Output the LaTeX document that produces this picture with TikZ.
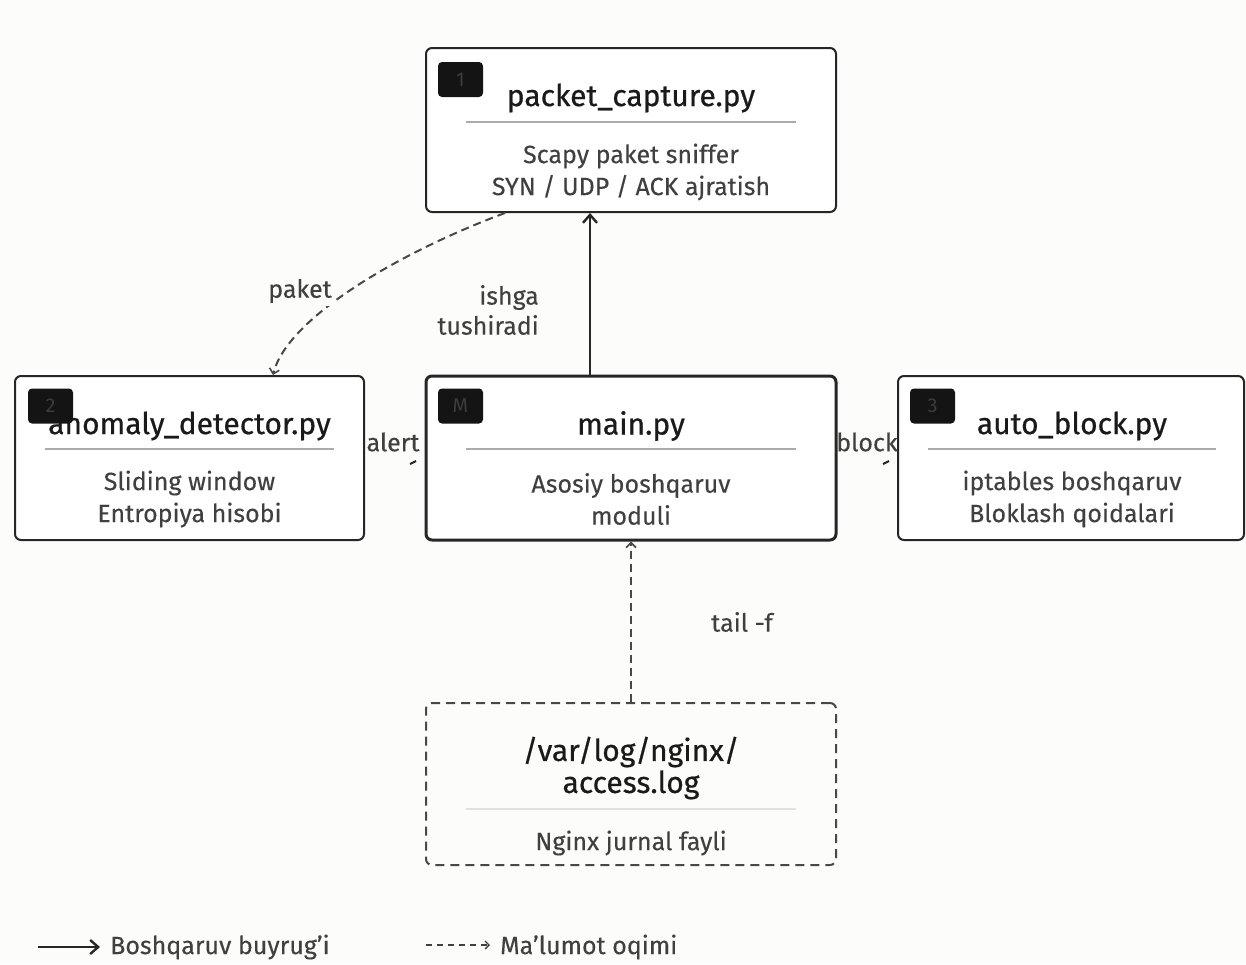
\documentclass[tikz,border=0pt]{standalone}
\usepackage{fontspec}
\setmainfont{Fira Sans}
\newfontface\ttlface{Fira Sans}[FakeBold=0.6]
\newfontface\bdyface{Fira Sans}[FakeBold=0.25]
\usetikzlibrary{arrows.meta,calc}
\definecolor{bgc}{HTML}{FCFCFB}
\definecolor{edge}{HTML}{262626}
\definecolor{titlec}{HTML}{1A1A1A}
\definecolor{bodyc}{HTML}{404040}
\definecolor{sepc}{HTML}{ABABAB}
\definecolor{sepl}{HTML}{E0E0E0}
\definecolor{badgec}{HTML}{141414}
\definecolor{badget}{HTML}{3C3C3C}
\definecolor{dashc}{HTML}{484848}
\tikzset{
  modbox/.style={draw=edge, line width=2pt, rounded corners=6pt, fill=white, minimum width=#1, minimum height=164pt, inner sep=0pt},
  modbox/.default=410pt,
  mainbox/.style={modbox, line width=3pt},
  logbox/.style={draw=dashc, line width=2pt, dash pattern=on 9pt off 6pt, rounded corners=6pt, minimum width=410pt, minimum height=162pt, inner sep=0pt},
  badge/.style={fill=badgec, rounded corners=4pt, minimum width=45pt, minimum height=35pt, inner sep=0pt, text=badget, font=\fontsize{20}{20}\selectfont},
  ttl/.style={text=titlec, font=\ttlface\fontsize{30}{32}\selectfont, inner sep=0pt, align=center},
  bdy/.style={text=bodyc, font=\bdyface\fontsize{25}{32}\selectfont, inner sep=0pt, align=center},
  lbl/.style={text=bodyc, font=\bdyface\fontsize{25}{30}\selectfont, inner sep=0pt, align=center},
  sep/.style={draw=sepc, line width=2pt},
  ctrl/.style={draw=edge, line width=2.4pt, -{Straight Barb[length=8pt,width=14pt,line width=2.4pt]}},
  dat/.style={draw=dashc, line width=2pt, dash pattern=on 8pt off 5pt, -{Straight Barb[length=5pt,width=10pt,line width=1.6pt]}},
}
\begin{document}
\begin{tikzpicture}[x=1pt,y=-1pt]
\useasboundingbox[fill=bgc] (0,0) rectangle (1246,964);
% boxes
\node[modbox] (pc) at (631,130) {};
\node[modbox=349pt] (ad) at (189.5,458) {};
\node[mainbox] (mn) at (631,458) {};
\node[modbox=346pt] (ab) at (1071,458) {};
\node[logbox] (lg) at (631,784) {};
% packet_capture
\node[ttl] (pct) at (631,98) {packet\_capture.py};
\draw[sep] (466,122) -- (796,122);
\node[bdy] (pcb) at (631,172) {Scapy paket sniffer\\SYN / UDP / ACK ajratish};
% anomaly
\node[ttl] (adt) at (189.5,426) {anomaly\_detector.py};
\draw[sep] (45,449) -- (334,449);
\node[bdy] (adb) at (189.5,499) {Sliding window\\Entropiya hisobi};
% main
\node[ttl] (mnt) at (631,426) {main.py};
\draw[sep] (466,449) -- (796,449);
\node[bdy] (mnb) at (631,499) {Asosiy boshqaruv\\moduli};
% auto_block
\node[ttl] (abt) at (1072,426) {auto\_block.py};
\draw[sep] (928,449) -- (1216,449);
\node[bdy] (abb) at (1072,499) {iptables boshqaruv\\Bloklash qoidalari};
% log
\node[ttl] (lgt) at (631,768) {/var/log/nginx/\\access.log};
\draw[sepl, line width=2pt] (466,809) -- (796,809);
\node[bdy] (lgb) at (631,843) {Nginx jurnal fayli};
% badges
\node[badge] (b1) at (460.5,79.5) {1};
\node[badge] (b2) at (50.5,406) {2};
\node[badge] (bm) at (460.5,406) {M};
\node[badge] (b3) at (932.5,406) {3};
% connectors
\draw[ctrl] ([xshift=-41pt]mn.north) -- ([xshift=-41pt]pc.south);
\node[lbl, align=right, anchor=east] (l1) at (539,310) {ishga\\tushiradi};
\draw[dat] ([xshift=-126pt]pc.south) .. controls (400,252) and (287,318) .. ([xshift=83.5pt]ad.north);
\node[lbl, fill=bgc, inner sep=3pt] (l2) at (300,291) {paket};
\draw[dat] (lg.north) -- (mn.south);
\node[lbl] (l3) at (742,622) {tail -f};
% alert / block stubs
\coordinate (a1) at (416,461);
\coordinate (a2) at (410,464);
\draw[draw=edge, line width=2pt] (a1) -- (a2);
\node[lbl] (l4) at (393,442) {alert};
\coordinate (c1) at (889,461);
\coordinate (c2) at (883,464);
\draw[draw=edge, line width=2pt] (c1) -- (c2);
\node[lbl] (l5) at (867,442) {block};
% legend
\coordinate (g1) at (38,947);
\coordinate (g2) at (100,947);
\draw[ctrl, line width=2.6pt] (g1) -- (g2);
\node[lbl, anchor=west] (gt1) at (110,947) {Boshqaruv buyrug’i};
\coordinate (h1) at (426,945);
\coordinate (h2) at (490,945);
\draw[draw=bodyc, line width=1.5pt, dash pattern=on 6pt off 5pt, -{Straight Barb[length=4pt,width=8pt,line width=1.3pt]}] (h1) -- (h2);
\node[lbl, anchor=west] (gt2) at (500,947) {Ma’lumot oqimi};
\end{tikzpicture}
\end{document}
